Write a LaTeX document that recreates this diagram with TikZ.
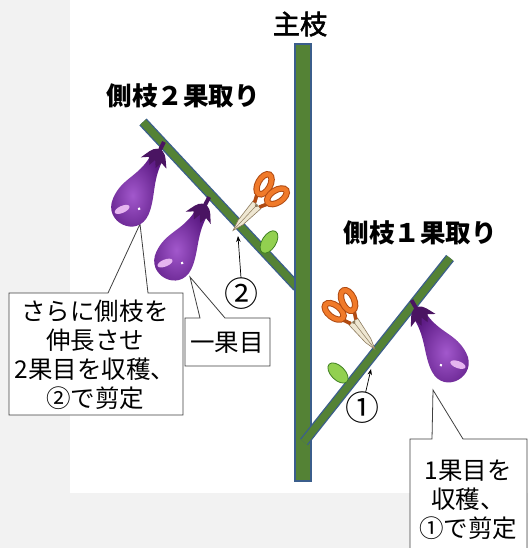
\documentclass[tikz,border=0pt]{standalone}
\usepackage{fontspec}
\newfontfamily\jp{Noto Sans CJK JP}
\newfontfamily\jpm[FakeBold=2]{Noto Sans CJK JP}
\usetikzlibrary{arrows.meta,calc}

\definecolor{stemgreen}{HTML}{548235}
\definecolor{stemedge}{HTML}{3B5E8C}
\definecolor{leafc}{HTML}{92D050}
\definecolor{leafedge}{HTML}{3F7F22}
\definecolor{eggA}{HTML}{A258CC}
\definecolor{eggB}{HTML}{5E1C86}
\definecolor{calyx}{HTML}{4A1462}
\definecolor{eggHi}{HTML}{E6B5F0}
\definecolor{handle}{HTML}{F07A2A}
\definecolor{handledark}{HTML}{B04A12}
\definecolor{blade}{HTML}{EFE7D2}
\definecolor{bladeedge}{HTML}{8C7B5E}
\definecolor{paper}{HTML}{F2F2F2}

\tikzset{
  eggplant/.pic={
    % body: narrow neck widening into a rounded bulb
    \shade[inner color=eggA, outer color=eggB]
      (-6,10) .. controls (-8,34) and (-22,42) .. (-21,64)
      .. controls (-20,90) and (19,90) .. (18,63)
      .. controls (17,45) and (7,32) .. (7,10)
      .. controls (5,4) and (-4,4) .. (-6,10) -- cycle;
    % highlights
    \fill[eggHi, rotate around={50:(-8,70)}] (-8,70) ellipse (8 and 3.5);
    \fill[white] (7,62) circle (1.5);
    % stem and calyx
    \fill[calyx] (-2,-9) rectangle (2,2);
    \fill[calyx] (-3,0) .. controls (-8,2) and (-10,8) .. (-14,15)
      -- (-7,11) -- (-3,18) -- (0,11) -- (4,18) -- (7,11) -- (14,14)
      .. controls (10,8) and (8,2) .. (3,0) -- cycle;
  },
  scissors/.pic={
    % closed blades
    \filldraw[fill=blade, draw=bladeedge, line width=0.6pt]
      (-5,-4) -- (-3,18) -- (0,28) -- (3,18) -- (5,-4) -- cycle;
    \draw[bladeedge, line width=0.5pt] (0,-4) -- (0,27);
    % shanks
    \draw[handledark, line width=3.6pt] (-3,-4) -- (-7,-12) (3,-4) -- (7,-12);
    % finger loops
    \begin{scope}[rotate around={14:(-8,-22)}]
      \draw[handledark, line width=6.4pt] (-8,-22) ellipse (5.5 and 10);
      \draw[handle, line width=4.4pt] (-8,-22) ellipse (5.5 and 10);
    \end{scope}
    \begin{scope}[rotate around={-14:(8,-22)}]
      \draw[handledark, line width=6.4pt] (8,-22) ellipse (5.5 and 10);
      \draw[handle, line width=4.4pt] (8,-22) ellipse (5.5 and 10);
    \end{scope}
    \fill[bladeedge] (0,-3) circle (1.6);
  }
}

\begin{document}
\begin{tikzpicture}[x=1pt,y=-1pt,
  txt/.style={font=\jp\fontsize{24.5}{29}\selectfont, align=center, inner sep=0pt},
  head/.style={font=\jp\bfseries\fontsize{25.5}{28}\selectfont, inner sep=0pt},
  title/.style={font=\jpm\fontsize{27}{30}\selectfont, inner sep=0pt},
  circnum/.style={font=\jp\fontsize{34}{36}\selectfont, inner sep=0pt},
  callout/.style={draw=black!75, line width=0.8pt, fill=white, line join=miter},
  branchedge/.style={line width=10pt, draw=stemedge},
  branchfill/.style={line width=7.4pt, draw=stemgreen},
  leaf/.style={fill=leafc, draw=leafedge, line width=0.8pt},
  ptr/.style={-{Stealth[length=6pt,width=4.5pt]}, line width=0.7pt},
]
\useasboundingbox (0,0) rectangle (528,548);
\clip (0,0) rectangle (528,548);

% page background
\fill[paper] (0,0) rectangle (528,548);
\fill[white] (70,0) rectangle (528,493);

% callout frames with their pointers
\coordinate (tipA) at (140,224);
\coordinate (tipB) at (190,277);
\coordinate (tipC) at (433,390);
\draw[callout] (9,293) -- (108,293) -- (tipA) -- (148,293) -- (183,293)
  -- (183,415) -- (9,415) -- cycle;
\draw[callout] (185,318) -- (200,318) -- (tipB) -- (225,318) -- (270,318)
  -- (270,366) -- (185,366) -- cycle;
\draw[callout] (410,439) -- (432,439) -- (tipC) -- (463,439) -- (527,439)
  -- (527,560) -- (410,560) -- cycle;

% side branch carrying two fruits
\draw[branchedge] (143,122) -- (297,287);
\draw[branchfill] (143,122) -- (297,287);

% main stem
\filldraw[fill=stemgreen, draw=stemedge, line width=1.2pt] (295,44) rectangle (311,481);

% side branch carrying one fruit
\draw[branchedge] (304,442) -- (450,258);
\draw[branchfill] (304,442) -- (450,258);

% leaf buds
\filldraw[leaf, rotate around={58:(269,242)}] (269,242) ellipse (12.5 and 7);
\filldraw[leaf, rotate around={-45:(338,373)}] (338,373) ellipse (12.5 and 7);

% fruits
\pic[rotate=-26] at (160,150) {eggplant};
\pic[rotate=-28] at (205,205) {eggplant};
\pic[rotate=30, xscale=-1] at (416,308) {eggplant};

% scissors at the cutting points
\pic[rotate=-43, scale=1.1] at (254,208) {scissors};
\pic[rotate=38, scale=1.1] at (356,325) {scissors};

% headings
\node[title] (main) at (300,24) {主枝};
\node[head] (side2) at (183,96) {側枝２果取り};
\node[head] (side1) at (420,233) {側枝１果取り};

% cut markers
\node[circnum] (c2) at (241,294) {②};
\node[circnum] (c1) at (362,408) {①};
\coordinate (cut2) at (238,236);
\coordinate (cut1) at (371,369);
\draw[ptr] (c2.north) -- (cut2);
\draw[ptr] (c1) -- (cut1);

% callout texts
\node[txt] (tA) at (95,355) {さらに側枝を\\伸長させ\\2果目を収穫、\\②で剪定};
\node[txt] (tB) at (227,343) {一果目};
\node[txt] (tC) at (468,500) {1果目を\\収穫、\\①で剪定};
\end{tikzpicture}
\end{document}
